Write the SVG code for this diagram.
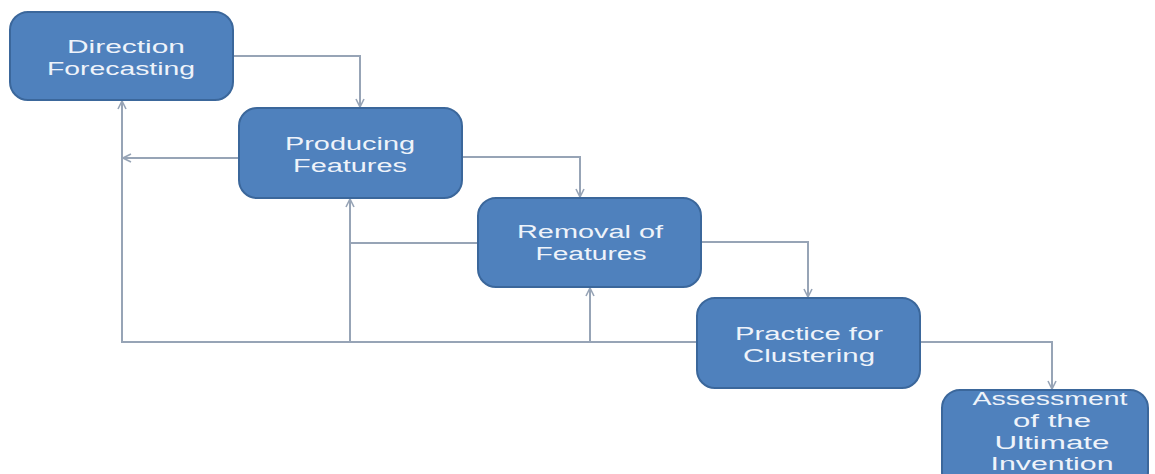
<svg xmlns="http://www.w3.org/2000/svg" width="1155" height="474" viewBox="0 0 1155 474">
<style>
.box{fill:#4f81bd;stroke:#3b679b;stroke-width:2}
.lbl{font-family:"Liberation Sans","Open Sans",sans-serif;font-size:18px;fill:#eef3fa;text-anchor:middle}
.ln{fill:none;stroke:#97a4b6;stroke-width:2}
</style>
<defs>
<marker id="ah" viewBox="0 0 10 10" refX="9" refY="5" markerWidth="10" markerHeight="10" markerUnits="userSpaceOnUse" orient="auto">
<path d="M1,1 L9,5 L1,9" fill="none" stroke="#97a4b6" stroke-width="1.6"/>
</marker>
</defs>
<rect width="1155" height="474" fill="#ffffff"/>
<g id="connectors">
<path class="ln" d="M233,56 H360 V107" marker-end="url(#ah)"/>
<path class="ln" d="M462,157 H580 V197" marker-end="url(#ah)"/>
<path class="ln" d="M701,242 H808 V297" marker-end="url(#ah)"/>
<path class="ln" d="M920,342 H1052 V389" marker-end="url(#ah)"/>
<path class="ln" d="M239,158 H123" marker-end="url(#ah)"/>
<path class="ln" d="M697,342 H122 V101" marker-end="url(#ah)"/>
<path class="ln" d="M350,342 V199" marker-end="url(#ah)"/>
<path class="ln" d="M478,243 H350"/>
<path class="ln" d="M590,342 V288" marker-end="url(#ah)"/>
</g>
<g id="n1">
<rect class="box" x="10" y="12" width="223" height="88" rx="18"/>
<text class="lbl" x="126" y="53" textLength="118" lengthAdjust="spacingAndGlyphs">Direction</text>
<text class="lbl" x="121" y="75" textLength="148" lengthAdjust="spacingAndGlyphs">Forecasting</text>
</g>
<g id="n2">
<rect class="box" x="239" y="108" width="223" height="90" rx="18"/>
<text class="lbl" x="350" y="150" textLength="130" lengthAdjust="spacingAndGlyphs">Producing</text>
<text class="lbl" x="350" y="172" textLength="114" lengthAdjust="spacingAndGlyphs">Features</text>
</g>
<g id="n3">
<rect class="box" x="478" y="198" width="223" height="89" rx="18"/>
<text class="lbl" x="590" y="238" textLength="146" lengthAdjust="spacingAndGlyphs">Removal of</text>
<text class="lbl" x="591" y="260" textLength="111" lengthAdjust="spacingAndGlyphs">Features</text>
</g>
<g id="n4">
<rect class="box" x="697" y="298" width="223" height="90" rx="18"/>
<text class="lbl" x="809" y="340" textLength="148" lengthAdjust="spacingAndGlyphs">Practice for</text>
<text class="lbl" x="809" y="362" textLength="132" lengthAdjust="spacingAndGlyphs">Clustering</text>
</g>
<g id="n5">
<rect class="box" x="942" y="390" width="206" height="100" rx="18"/>
<text class="lbl" x="1050" y="405" textLength="155" lengthAdjust="spacingAndGlyphs">Assessment</text>
<text class="lbl" x="1052" y="427" textLength="78" lengthAdjust="spacingAndGlyphs">of the</text>
<text class="lbl" x="1052" y="449" textLength="115" lengthAdjust="spacingAndGlyphs">Ultimate</text>
<text class="lbl" x="1052" y="470" textLength="123" lengthAdjust="spacingAndGlyphs">Invention</text>
</g>
</svg>
